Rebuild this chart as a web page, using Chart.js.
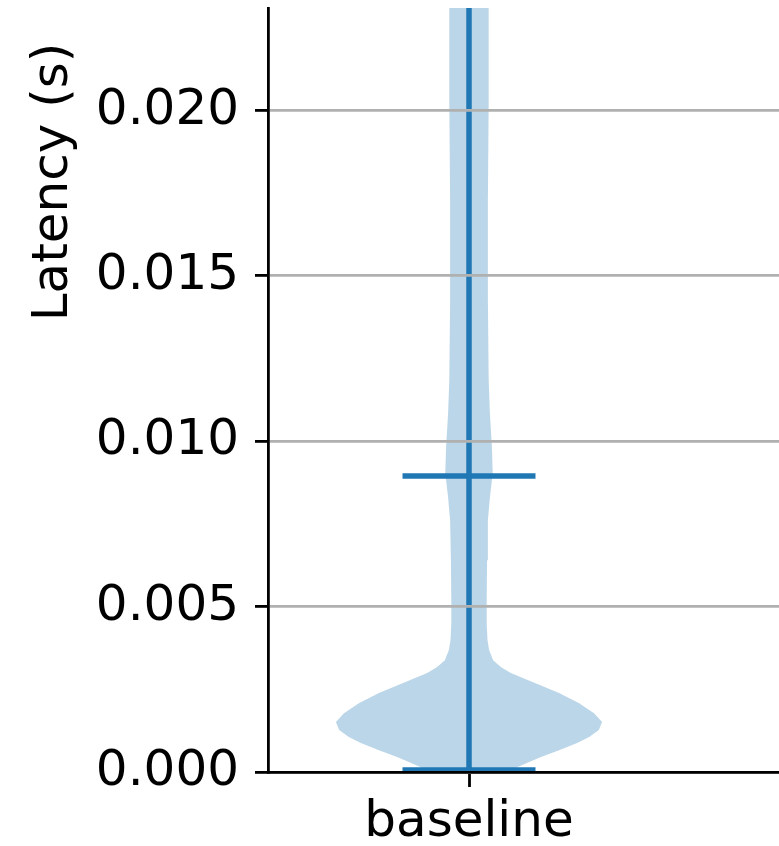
<!DOCTYPE html>
<html><head><meta charset="utf-8">
<script src="https://cdn.jsdelivr.net/npm/chart.js@4.4.1/dist/chart.umd.min.js"></script>
<style>
html,body{margin:0;padding:0;overflow:hidden;background:#fff;width:779px;height:846px}
#wrap{position:absolute;left:0;top:0;width:1072px;height:846px}
</style>
</head><body><div id="wrap"><canvas id="c" width="1072" height="846"></canvas></div>
<script>
// ---- data ----
const categories = ['baseline'];
const positions = [1];
const yTickValues = [0, 0.005, 0.010, 0.015, 0.020];
const yTickLabels = ['0.000', '0.005', '0.010', '0.015', '0.020'];
const yAxisTitle = 'Latency (s)';
// violin outline: latency (s) and KDE half-width (in x-axis units)
const violinLatency = [0.00006, 0.00027, 0.00045, 0.00066, 0.00088, 0.00106, 0.00127, 0.00151, 0.00178, 0.00208, 0.00239, 0.00269, 0.00299, 0.00317, 0.00338, 0.00369, 0.00399, 0.00450, 0.00520, 0.00640, 0.00761, 0.00831, 0.00903, 0.00982, 0.01085, 0.01184, 0.01426, 0.01728, 0.02030, 0.02310];
const violinHalfWidth = [0.104, 0.144, 0.179, 0.224, 0.269, 0.299, 0.323, 0.331, 0.311, 0.274, 0.224, 0.164, 0.104, 0.080, 0.060, 0.050, 0.046, 0.044, 0.044, 0.045, 0.047, 0.052, 0.059, 0.057, 0.052, 0.049, 0.047, 0.047, 0.049, 0.049];
const minLatency = 0.00006;
const meanLatency = 0.00895;
const yMax = 0.0231;
const statBarHalfWidth = 0.1654;

const C0 = '#1f77b4';
const pos = positions[0];
const outline = violinLatency.map((v, i) => ({x: pos + violinHalfWidth[i], y: v}))
  .concat(violinLatency.map((v, i) => ({x: pos - violinHalfWidth[i], y: v})).reverse());

Chart.defaults.color = '#000';
Chart.defaults.font.family = '"DejaVu Sans", sans-serif';

const yTitlePlugin = {
  id: 'yTitle',
  afterDraw(chart) {
    const ctx = chart.ctx;
    ctx.save();
    ctx.translate(66.5, 182);
    ctx.rotate(-Math.PI / 2);
    ctx.font = '50px "DejaVu Sans", sans-serif';
    ctx.fillStyle = '#000';
    ctx.textAlign = 'center';
    ctx.textBaseline = 'alphabetic';
    ctx.fillText(chart.options.scales.y.title.text, 0, 0);
    ctx.restore();
  }
};

new Chart(document.getElementById('c'), {
  type: 'line',
  data: {
    datasets: [
      {data: [{x: pos, y: minLatency}, {x: pos, y: yMax}], borderColor: C0, borderWidth: 5.5, pointRadius: 0, fill: false, order: 1, clip: 0},
      {data: [{x: pos - statBarHalfWidth, y: meanLatency}, {x: pos + statBarHalfWidth, y: meanLatency}], borderColor: C0, borderWidth: 5.5, pointRadius: 0, fill: false, order: 1},
      {data: [{x: pos - statBarHalfWidth, y: minLatency}, {x: pos + statBarHalfWidth, y: minLatency}], borderColor: C0, borderWidth: 5.5, pointRadius: 0, fill: false, order: 1},
      {data: outline, borderColor: 'rgba(0,0,0,0)', borderWidth: 0, backgroundColor: 'rgba(31,119,180,0.3)', fill: 'shape', pointRadius: 0, tension: 0, order: 5}
    ]
  },
  options: {
    responsive: false,
    animation: false,
    devicePixelRatio: 1,
    layout: {padding: {left: 22, top: 8, right: 0, bottom: 0}},
    plugins: {legend: {display: false}, tooltip: {enabled: false}},
    scales: {
      x: {
        type: 'linear', min: 0.5, max: 2.5,
        afterBuildTicks: s => { s.ticks = positions.map(v => ({value: v})); },
        afterFit: s => { s.height = 74; s.paddingLeft = 0; s.paddingRight = 0; },
        ticks: {autoSkip: false, padding: 6, font: {size: 50}, color: '#000',
          callback: v => categories[positions.indexOf(v)]},
        grid: {display: true, drawOnChartArea: false, tickLength: 15, tickColor: '#000', tickWidth: 2.8},
        border: {display: true, color: '#000', width: 2.8, z: 2}
      },
      y: {
        type: 'linear', min: 0, max: yMax,
        afterBuildTicks: s => { s.ticks = yTickValues.map(v => ({value: v})); },
        afterFit: s => { s.width = 246; s.paddingTop = 0; s.paddingBottom = 0; },
        ticks: {autoSkip: false, padding: 16, font: {size: 50}, color: '#000',
          callback: (v, i) => yTickLabels[i]},
        title: {display: false, text: yAxisTitle},
        grid: {display: true, color: '#b0b0b0', lineWidth: 2.8, tickLength: 13, tickColor: '#000', tickWidth: 2.8, z: 1},
        border: {display: true, color: '#000', width: 2.8, z: 2}
      }
    }
  },
  plugins: [yTitlePlugin]
});
</script>
</body></html>
